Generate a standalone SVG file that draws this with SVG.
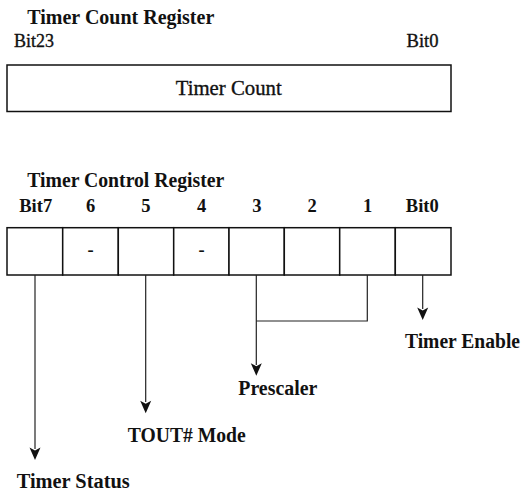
<svg xmlns="http://www.w3.org/2000/svg" width="527" height="496" viewBox="0 0 527 496">
<defs>
<style>
text{font-family:'Liberation Serif','Times New Roman',serif;fill:#111;}
.title{font-size:21px;font-weight:bold;}
.reg{stroke:#111;stroke-width:0.35;}
.bitr{font-size:18px;}
.bitb{font-size:18.5px;font-weight:bold;text-anchor:middle;}
.lbl{font-size:20px;font-weight:bold;}
.box{fill:#fff;stroke:#111;stroke-width:1.5;}
.conn{fill:none;stroke:#222;stroke-width:1.2;}
.arrow{fill:#111;stroke:none;}
</style>
</defs>
<rect width="527" height="496" fill="#fff"/>

<g id="timer-count-register">
<text class="title" x="27.3" y="23.7" textLength="187" lengthAdjust="spacingAndGlyphs">Timer Count Register</text>
<text class="bitr reg" x="14" y="46.7" textLength="40" lengthAdjust="spacingAndGlyphs">Bit23</text>
<text class="bitr reg" x="406.5" y="47" textLength="32" lengthAdjust="spacingAndGlyphs">Bit0</text>
<rect class="box" x="7" y="65" width="444" height="46.5"/>
<text class="reg" x="175.7" y="94.7" font-size="20.5" textLength="106" lengthAdjust="spacingAndGlyphs">Timer Count</text>
</g>

<g id="timer-control-register">
<text class="title" x="27.3" y="186.7" textLength="197" lengthAdjust="spacingAndGlyphs">Timer Control Register</text>
<text class="bitb" x="35.7" y="211.7">Bit7</text>
<text class="bitb" x="90.7" y="211.7">6</text>
<text class="bitb" x="145.9" y="211.7">5</text>
<text class="bitb" x="201.7" y="211.7">4</text>
<text class="bitb" x="256.8" y="211.7">3</text>
<text class="bitb" x="312" y="211.7">2</text>
<text class="bitb" x="367.5" y="211.7">1</text>
<text class="bitb" x="422.3" y="211.7">Bit0</text>
<g id="bits">
<rect class="box" x="7" y="227.7" width="55.7" height="47.3"/>
<rect class="box" x="62.7" y="227.7" width="55.6" height="47.3"/>
<rect class="box" x="118.3" y="227.7" width="55.4" height="47.3"/>
<rect class="box" x="173.7" y="227.7" width="55.3" height="47.3"/>
<rect class="box" x="229" y="227.7" width="55.3" height="47.3"/>
<rect class="box" x="284.3" y="227.7" width="55.4" height="47.3"/>
<rect class="box" x="339.7" y="227.7" width="55.6" height="47.3"/>
<rect class="box" x="395.3" y="227.7" width="55.7" height="47.3"/>
</g>
<text class="bitb" x="90.7" y="255.5">-</text>
<text class="bitb" x="201.7" y="255.5">-</text>
</g>

<g id="connectors">
<path class="conn" d="M35,275 V449"/>
<path class="arrow" d="M35,460 L29.5,447.5 L35,450.5 L40.5,447.5 Z"/>
<path class="conn" d="M145.7,275 V402"/>
<path class="arrow" d="M145.7,413.3 L140.2,400.8 L145.7,403.8 L151.2,400.8 Z"/>
<path class="conn" d="M367.3,275 V321 H256.3"/>
<path class="conn" d="M256.3,275 V365"/>
<path class="arrow" d="M256.3,375.7 L250.8,363.2 L256.3,366.2 L261.8,363.2 Z"/>
<path class="conn" d="M422.7,275 V309"/>
<path class="arrow" d="M422.7,320 L417.2,307.5 L422.7,310.5 L428.2,307.5 Z"/>
</g>

<g id="labels">
<text class="lbl" x="16.7" y="488.3" textLength="113" lengthAdjust="spacingAndGlyphs">Timer Status</text>
<text class="lbl" x="127.7" y="441.7" textLength="118" lengthAdjust="spacingAndGlyphs">TOUT# Mode</text>
<text class="lbl" x="238.3" y="395" textLength="79" lengthAdjust="spacingAndGlyphs">Prescaler</text>
<text class="lbl" x="405" y="348.3" textLength="115" lengthAdjust="spacingAndGlyphs">Timer Enable</text>
</g>
</svg>
